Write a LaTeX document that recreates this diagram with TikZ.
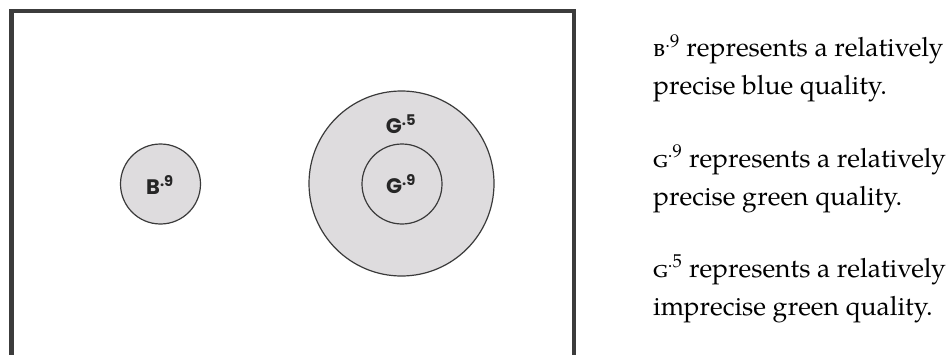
\documentclass[tikz,border=0pt]{standalone}
\usepackage{fontspec}
\setmainfont{TeX Gyre Pagella}
\newfontfamily\lblfont{Poppins}
\definecolor{framegray}{HTML}{3C3C3C}
\definecolor{circfill}{HTML}{DEDCDE}
\definecolor{circline}{HTML}{3A3A3A}
\begin{document}
\begin{tikzpicture}[x=1pt,y=1pt,
  circ/.style={circle,draw=circline,fill=circfill,line width=1.2pt,inner sep=0pt},
  lbl/.style={anchor=base,inner sep=0pt,text=black!85,font=\lblfont\bfseries\fontsize{21}{21}\selectfont},
  body/.style={anchor=base west,inner sep=0pt,font=\fontsize{26.5}{30}\selectfont}]
\useasboundingbox (0,0) rectangle (949,354);
\fill[white] (0,0) rectangle (949,354);
\draw[framegray,line width=4.5pt] (11.5,-10) -- (11.5,343) -- (574,343) -- (574,-10);
\node[circ,minimum size=80pt] (b9) at (160.5,170) {};
\node[circ,minimum size=185pt] (g5) at (401.5,170.5) {};
\node[circ,minimum size=80pt] (g9) at (402,170) {};
\node[lbl] (lb9) at (160,160) {B\textsuperscript{.9}};
\node[lbl] (lg5) at (401,221) {G\textsuperscript{.5}};
\node[lbl] (lg9) at (401,161) {G\textsuperscript{.9}};
\node[body] (t1a) at (653,297) {\textsc{b}\textsuperscript{.9} represents a relatively};
\node[body] (t1b) at (653,259) {precise blue quality.};
\node[body] (t2a) at (653,187) {\textsc{g}\textsuperscript{.9} represents a relatively};
\node[body] (t2b) at (653,149) {precise green quality.};
\node[body] (t3a) at (653,77) {\textsc{g}\textsuperscript{.5} represents a relatively};
\node[body] (t3b) at (653,39) {imprecise green quality.};
\end{tikzpicture}
\end{document}
